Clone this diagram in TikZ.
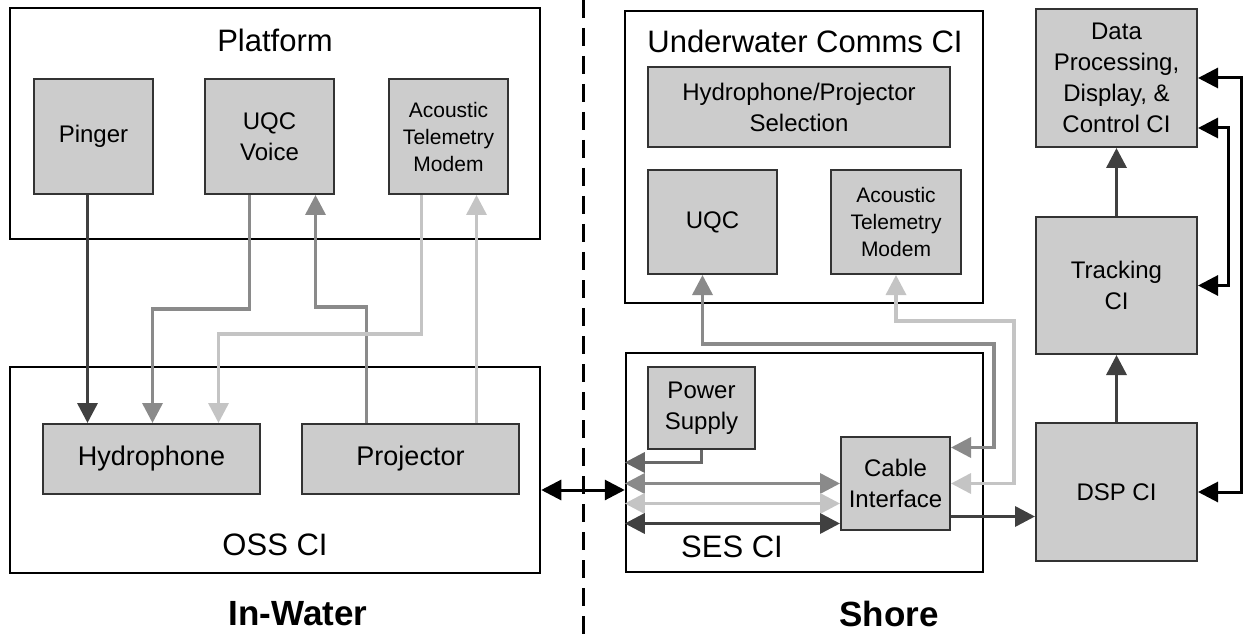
\documentclass[tikz,border=0pt]{standalone}
\usepackage{fontspec}
\setmainfont{Liberation Sans}
\usetikzlibrary{arrows.meta}
\definecolor{darkline}{HTML}{404040}
\definecolor{powerline}{HTML}{686868}
\definecolor{midline}{HTML}{8A8A8A}
\definecolor{lightline}{HTML}{C4C4C4}
\definecolor{blockfill}{HTML}{CCCCCC}
\tikzset{
  group/.style    = {shape=rectangle, draw, line width=2.5, inner sep=0},
  block/.style    = {shape=rectangle, draw=black!80, fill=blockfill,
          line width=2, align=center, inner sep=0,
          font=\fontsize{24}{31}\selectfont},
  big/.style      = {font=\fontsize{27}{32}\selectfont},
  small/.style    = {font=\fontsize{21}{27}\selectfont},
  title/.style    = {font=\fontsize{31}{36}\selectfont},
  side/.style     = {font=\bfseries\fontsize{35}{40}\selectfont},
  darkarr/.style  = {draw=darkline, line width=3.5},
  powerarr/.style = {draw=powerline, line width=3.5},
  midarr/.style   = {draw=midline, line width=3.5},
  lightarr/.style = {draw=lightline, line width=3.5},
  blackarr/.style = {draw=black, line width=3}
}

\begin{document}
\begin{tikzpicture}
  [
    x = 1pt,
    y = -1pt,
    >   = {Triangle[length=20pt,width=20pt]}
  ]
  \useasboundingbox (0,0) rectangle (1244,636);

  % in-water side
  \node [group, minimum width=530, minimum height=231] (platform) at (275,123.5) {};
  \node [title] (platformtitle) at (275,40) {Platform};
  \node [block, minimum width=119, minimum height=115] (pinger) at (93.5,136.5) {Pinger};
  \node [block, minimum width=129, minimum height=115] (uqcv) at (269.5,136.5) {UQC\\Voice};
  \node [block, small, minimum width=119, minimum height=115] (modemL) at (448.5,136.5) {Acoustic\\Telemetry\\Modem};

  \node [group, minimum width=530, minimum height=206] (oss) at (275,470) {};
  \node [title] (osstitle) at (275,545) {OSS CI};
  \node [block, big, minimum width=217, minimum height=70] (hydro) at (151.5,459) {Hydrophone};
  \node [block, big, minimum width=217, minimum height=70] (proj) at (410.5,459) {Projector};

  \node [side] (inwater) at (298,614) {In-Water};
  \draw [line width=3, dash pattern=on 18pt off 10pt] (583,0) -- (583,636);

  % shore side
  \node [group, minimum width=358, minimum height=292] (uwc) at (804,157) {};
  \node [title] (uwctitle) at (805,41) {Underwater Comms CI};
  \node [block, minimum width=302, minimum height=80] (select) at (799,107) {Hydrophone/Projector\\Selection};
  \node [block, minimum width=129, minimum height=104] (uqc) at (712.5,222) {UQC};
  \node [block, small, minimum width=130, minimum height=104] (modemR) at (896,222) {Acoustic\\Telemetry\\Modem};

  \node [group, minimum width=357, minimum height=219] (ses) at (804.5,462.5) {};
  \node [title] (sestitle) at (732,547) {SES CI};
  \node [block, minimum width=107, minimum height=82] (power) at (701.5,408) {Power\\Supply};
  \node [block, minimum width=109, minimum height=93] (cable) at (895.5,483.5) {Cable\\Interface};

  \node [block, minimum width=161, minimum height=138] (data) at (1116.5,78) {Data\\Processing,\\Display, \&\\Control CI};
  \node [block, minimum width=161, minimum height=137] (track) at (1116.5,285.5) {Tracking\\CI};
  \node [block, minimum width=161, minimum height=138] (dsp) at (1116.5,492) {DSP CI};

  \node [side] (shore) at (889,614) {Shore};

  \coordinate (pingerout) at ([xshift=-6]pinger.south);
  \coordinate (projout) at ([xshift=66]proj.north);
  \coordinate (osslink) at ([yshift=-20]oss.east);
  \coordinate (lightlevel) at ([yshift=-20]cable.west);
  \coordinate (darklevel) at ([yshift=-40]cable.west);
  \coordinate (cableout) at ([yshift=-33]cable.east);

  \draw [darkarr, ->] (pingerout) -- (pingerout |- hydro.north);
  \draw [midarr, ->] ([xshift=-20]uqcv.south) -- ++(0,114) -| ([xshift=1]hydro.north);
  \draw [midarr, ->] ([xshift=-44]proj.north) -- ++(0,-116) -| ([xshift=46]uqcv.south);
  \draw [lightarr, ->] ([xshift=-27]modemL.south) -- ++(0,139) -| ([xshift=67]hydro.north);
  \draw [lightarr, ->] (projout) -- (projout |- modemL.south);

  \draw [blackarr, <->] (osslink) -- (osslink -| ses.west);

  \draw [powerarr, ->] (power.south) |- (ses.west);
  \draw [midarr, <->] (cable.west -| ses.west) -- (cable.west);
  \draw [lightarr, <->] (lightlevel -| ses.west) -- (lightlevel);
  \draw [darkarr, <->] (darklevel -| ses.west) -- (darklevel);
  \draw [darkarr, ->] (cableout) -- (cableout -| dsp.west);

  \draw [midarr, <->] ([xshift=-10]uqc.south) -- ++(0,69) -| ([xshift=43,yshift=36]cable.east) -- ([yshift=36]cable.east);
  \draw [lightarr, <->] (modemR.south) -- ++(0,46) -| ([xshift=63]cable.east) -- (cable.east);

  \draw [darkarr, ->] (dsp.north) -- (track.south);
  \draw [darkarr, ->] (track.north) -- (data.south);
  \draw [blackarr, <->] (data.east) -- ++(43,0) |- (dsp.east);
  \draw [blackarr, <->] ([yshift=-50]data.east) -- ++(30,0) |- (track.east);
\end{tikzpicture}
\end{document}
